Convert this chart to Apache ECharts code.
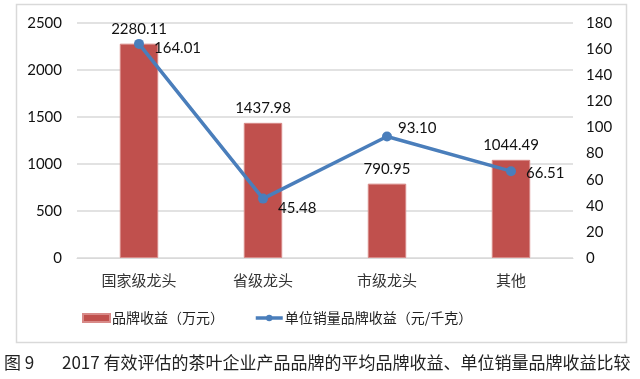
<!DOCTYPE html>
<html><head><meta charset="utf-8">
<script src="https://cdn.jsdelivr.net/npm/echarts@6/dist/echarts.min.js"></script>
<style>html,body{margin:0;padding:0;background:#fff}#c{width:640px;height:379px}</style>
</head><body><div id="c"></div>
<script>
const categories = ['国家级龙头', '省级龙头', '市级龙头', '其他'];
const brandIncome = [2280.11, 1437.98, 790.95, 1044.49];
const unitIncome = [164.01, 45.48, 93.10, 66.51];
const leftTicks = [0, 500, 1000, 1500, 2000, 2500];
const rightTicks = [0, 20, 40, 60, 80, 100, 120, 140, 160, 180];
const seriesNames = ['品牌收益（万元）', '单位销量品牌收益（元/千克）'];
const captionNo = '图 9';
const captionText = '2017 有效评估的茶叶企业产品品牌的平均品牌收益、单位销量品牌收益比较';

const numFont = 'Lato, "Noto Sans", sans-serif';
const cjkFont = '"Noto Sans CJK SC", sans-serif';
const chart = echarts.init(document.getElementById('c'), null, {renderer: 'canvas'});
const unitLabelPos = [[6, 4], [6, 10], [2, -8], [6, 2]];
chart.setOption({
  animation: false,
  backgroundColor: '#fff',
  grid: {left: 77, right: 67, top: 23, bottom: 121, containLabel: false},
  legend: {
    bottom: 49, left: 77, itemGap: 30, itemWidth: 27, itemHeight: 8,
    textStyle: {fontFamily: cjkFont, fontSize: 14, color: '#222', padding: [0, 0, 0, -3]},
    data: [{name: seriesNames[0], icon: 'rect'},
           {name: seriesNames[1], itemStyle: {color: '#4a7ebb'}, lineStyle: {width: 3.5, color: '#4a7ebb'}}]
  },
  xAxis: {
    type: 'category', data: categories,
    axisLine: {lineStyle: {color: '#d9d9d9', width: 1}},
    axisTick: {show: false},
    axisLabel: {fontFamily: cjkFont, fontSize: 15, color: '#333', margin: 15}
  },
  yAxis: [{
    type: 'value', min: leftTicks[0], max: leftTicks[leftTicks.length - 1], interval: 500,
    axisLine: {show: false}, axisTick: {show: false},
    splitLine: {lineStyle: {color: '#d9d9d9', width: 1.5}},
    axisLabel: {fontFamily: numFont, fontSize: 15, color: '#111', margin: 15, formatter: v => String(v)}
  }, {
    type: 'value', min: rightTicks[0], max: rightTicks[rightTicks.length - 1], interval: 20,
    axisLine: {show: false}, axisTick: {show: false}, splitLine: {show: false},
    axisLabel: {fontFamily: numFont, fontSize: 15, color: '#111', margin: 13, formatter: v => String(v)}
  }],
  series: [{
    name: seriesNames[0], type: 'bar', yAxisIndex: 0, data: brandIncome,
    barWidth: '31%',
    itemStyle: {color: '#c0504d', borderColor: '#d88a88', borderWidth: 1},
    label: {show: true, position: 'top', distance: 7, fontFamily: numFont, fontSize: 15, color: '#111',
      formatter: p => p.value.toFixed(2)}
  }, {
    name: seriesNames[1], type: 'line', yAxisIndex: 1,
    data: unitIncome.map((v, i) => ({value: v, label: {offset: unitLabelPos[i]}})),
    symbol: 'circle', symbolSize: 10,
    lineStyle: {color: '#4a7ebb', width: 3.5},
    itemStyle: {color: '#4a7ebb'},
    label: {show: true, position: 'right', distance: 4, fontFamily: numFont, fontSize: 15, color: '#111',
      formatter: p => p.value.toFixed(2)},
    z: 5
  }],
  graphic: [{
    type: 'rect', shape: {x: 16.5, y: 4.5, width: 610, height: 338},
    style: {fill: 'none', stroke: '#d9d9d9', lineWidth: 1.5}, z: -1
  }, {
    type: 'text', left: 4, top: 354,
    style: {text: captionNo, font: '17px ' + cjkFont, fill: '#222'}
  }, {
    type: 'text', left: 62, top: 354,
    style: {text: captionText, font: '17px ' + cjkFont, fill: '#222'}
  }]
});
</script></body></html>
